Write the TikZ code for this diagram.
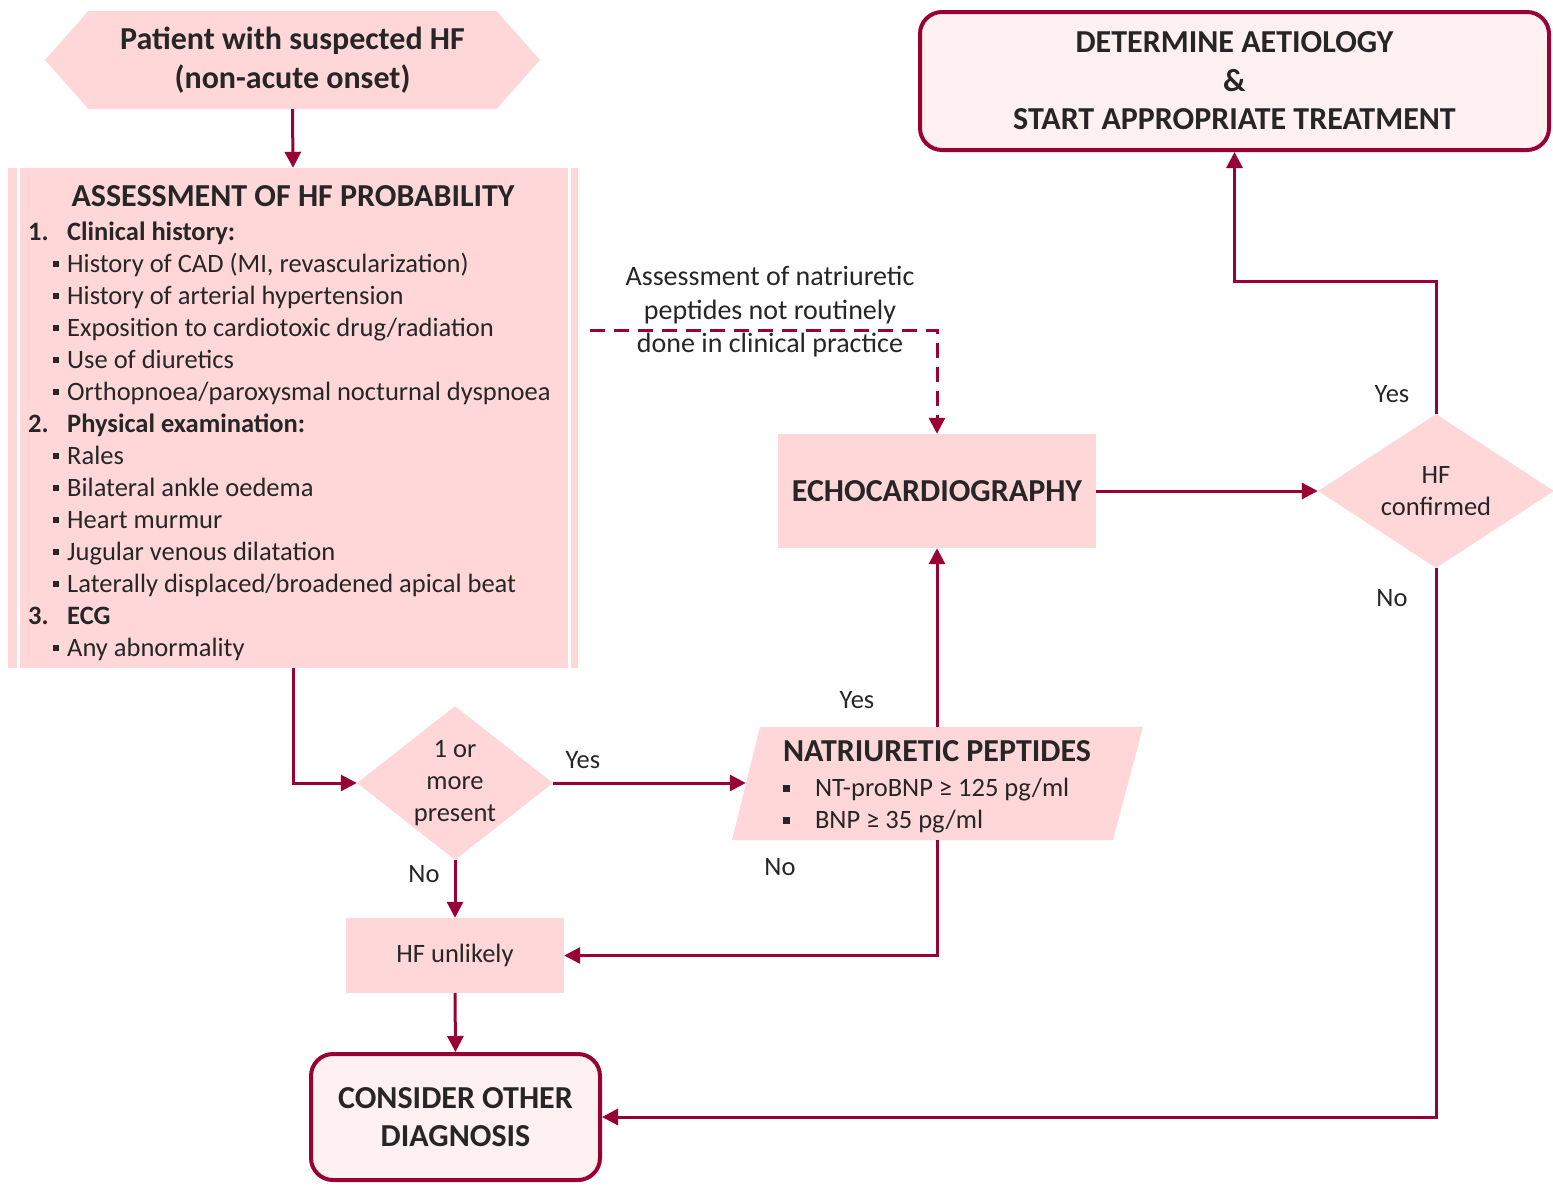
\documentclass[tikz,border=0pt]{standalone}
\usepackage{fontspec}
\setmainfont{Carlito}
\usepackage{xcolor}
\definecolor{hfred}{RGB}{153,0,51}
\definecolor{hfpink}{RGB}{255,215,217}
\definecolor{hflight}{RGB}{255,241,242}
\definecolor{hftext}{RGB}{38,38,38}
\usetikzlibrary{arrows.meta,shapes.geometric,shapes.symbols}

\newcommand{\numitem}[2]{\makebox[39pt][l]{\textbf{#1}}\textbf{#2}}
\newcommand{\bulitem}[1]{\hspace{25pt}\rule[5pt]{6pt}{6pt}\hspace{8pt}#1}

\begin{document}
\begin{tikzpicture}[x=1pt, y=-1pt,
    every node/.style={text=hftext, inner sep=0pt, align=center},
    big/.style={font=\fontsize{32}{38.5}\selectfont\bfseries},
    reg/.style={font=\fontsize{26.5}{32}\selectfont},
    lbl/.style={font=\fontsize{26.5}{30}\selectfont},
    pinkbox/.style={fill=hfpink},
    endbox/.style={draw=hfred, line width=4pt, fill=hflight, rounded corners=22pt},
    flow/.style={draw=hfred, line width=3pt, -{Triangle[length=16pt, width=16pt]}}
]
\useasboundingbox (0,0) rectangle (1553,1184);

% left column
\node[pinkbox, big, shape=signal, signal to=west and east, signal pointer angle=97,
      minimum width=495pt, minimum height=98pt] (start) at (292.5,60)
      {Patient with suspected HF\\(non-acute onset)};

\node[pinkbox, minimum width=570pt, minimum height=500pt] (assess) at (293,418) {};
\draw[white, line width=3pt] ([xshift=10.5pt]assess.north west) -- ([xshift=10.5pt]assess.south west);
\draw[white, line width=3pt] ([xshift=-9pt]assess.north east) -- ([xshift=-9pt]assess.south east);
\node[big] (assesstitle) at (293,196) {ASSESSMENT OF HF PROBABILITY};
\foreach \txt [count=\i] in {
    {\numitem{1.}{Clinical history:}},
    {\bulitem{History of CAD (MI, revascularization)}},
    {\bulitem{History of arterial hypertension}},
    {\bulitem{Exposition to cardiotoxic drug/radiation}},
    {\bulitem{Use of diuretics}},
    {\bulitem{Orthopnoea/paroxysmal nocturnal dyspnoea}},
    {\numitem{2.}{Physical examination:}},
    {\bulitem{Rales}},
    {\bulitem{Bilateral ankle oedema}},
    {\bulitem{Heart murmur}},
    {\bulitem{Jugular venous dilatation}},
    {\bulitem{Laterally displaced/broadened apical beat}},
    {\numitem{3.}{ECG}},
    {\bulitem{Any abnormality}}}
  \node[font=\fontsize{26.5}{32}\selectfont, anchor=base west] (line\i) at (28,{240+32*(\i-1)}) {\txt};

\node[pinkbox, reg, shape=diamond, aspect=1.27, minimum width=196pt, minimum height=154pt]
      (dec) at (455,783) {1 or\\more\\present};
\node[pinkbox, reg, minimum width=218pt, minimum height=75pt] (unl) at (455,955.5) {HF unlikely};
\node[endbox, big, minimum width=289pt, minimum height=126pt] (cons) at (455.5,1117)
      {CONSIDER OTHER\\DIAGNOSIS};

% middle and right
\fill[hfpink] (760,727) -- (1143,727) -- (1113,840) -- (732,840) -- cycle;
\node[minimum width=382pt, minimum height=113pt] (np) at (937,783.5) {};
\node[font=\fontsize{26.5}{32}\selectfont, align=left] (nptext) at (937,787)
      {{\fontsize{32}{32}\selectfont\bfseries NATRIURETIC PEPTIDES}\\[3pt]
       \rule[5pt]{7pt}{7pt}\hspace{25pt}NT-proBNP ≥ 125 pg/ml\\
       \rule[5pt]{7pt}{7pt}\hspace{25pt}BNP ≥ 35 pg/ml};

\node[pinkbox, big, minimum width=318pt, minimum height=114pt] (echo) at (937,491) {ECHOCARDIOGRAPHY};
\node[pinkbox, reg, shape=diamond, aspect=1.53, minimum width=236pt, minimum height=154pt]
      (hfc) at (1436,491) {HF\\confirmed};
\node[endbox, big, minimum width=629pt, minimum height=138pt] (aet) at (1234.5,81)
      {DETERMINE AETIOLOGY\\\&\\START APPROPRIATE TREATMENT};

\node[font=\fontsize{28}{33.5}\selectfont] (note) at (770,312)
      {Assessment of natriuretic\\peptides not routinely\\done in clinical practice};

% connectors
\draw[flow] (start.south) -- (assess.north);
\draw[flow] (assess.south) |- (dec.west);
\draw[flow] (dec.east) -- (dec.east -| np.west);
\draw[flow] (dec.south) -- (unl.north);
\draw[flow] (unl.south) -- (cons.north);
\draw[flow] (np.north) -- (echo.south);
\draw[flow] (np.south) |- (unl.east);
\draw[flow] (echo.east) -- (hfc.west);
\draw[flow] (hfc.north) -- ++(0,-132) -| (aet.south);
\draw[flow] (hfc.south) |- (cons.east);
\coordinate (dstart) at (590,330);
\draw[flow, dash pattern=on 15pt off 9pt] (dstart) -| (echo.north);

\node[lbl] (yesdec) at (583,760) {Yes};
\node[lbl] (nodec) at (424,874) {No};
\node[lbl] (yesnp) at (857,700) {Yes};
\node[lbl] (nonp) at (780,867) {No};
\node[lbl] (yeshfc) at (1392,394) {Yes};
\node[lbl] (nohfc) at (1392,598) {No};
\end{tikzpicture}
\end{document}
